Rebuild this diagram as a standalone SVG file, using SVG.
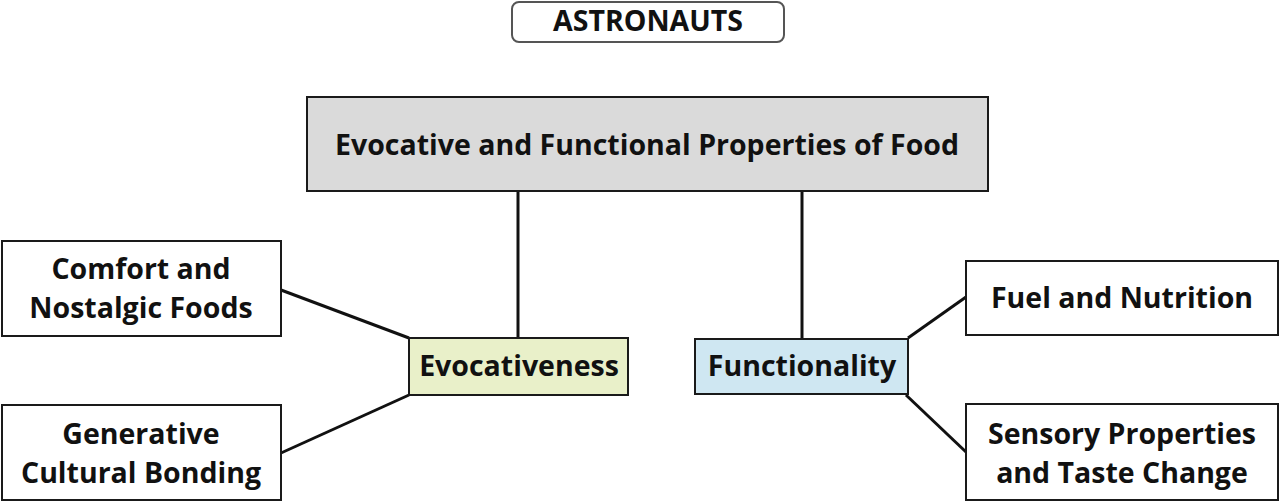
<svg xmlns="http://www.w3.org/2000/svg" width="1280" height="502" viewBox="0 0 1280 502">
<style>
.box{fill:#fff;stroke:#1a1a1a;stroke-width:2}
.t{font-family:"Open Sans","Liberation Sans",sans-serif;font-weight:bold;fill:#111;text-anchor:middle;font-size:28.5px}
.c{stroke:#111;stroke-width:3;fill:none}
</style>
<rect width="1280" height="502" fill="#fff"/>
<g id="astronauts">
<rect x="512" y="2" width="272" height="40" rx="7" fill="#fff" stroke="#555" stroke-width="2"/>
<text class="t" x="648" y="31" font-size="25">ASTRONAUTS</text>
</g>
<g id="connectors">
<line class="c" x1="518" y1="192" x2="518" y2="338"/>
<line class="c" x1="802" y1="192" x2="802" y2="338"/>
<line class="c" x1="281" y1="290" x2="409" y2="338"/>
<line class="c" x1="281" y1="453" x2="409" y2="395"/>
<line class="c" x1="908" y1="338" x2="966" y2="297"/>
<line class="c" x1="906" y1="395" x2="966" y2="452"/>
</g>
<g id="main">
<rect x="307" y="97" width="681" height="94" fill="#dadada" stroke="#1a1a1a" stroke-width="2"/>
<text class="t" x="647" y="155" font-size="28" textLength="624" lengthAdjust="spacingAndGlyphs">Evocative and Functional Properties of Food</text>
</g>
<g id="evocativeness">
<rect x="409" y="338" width="219" height="57" fill="#e9f0c9" stroke="#1a1a1a" stroke-width="2"/>
<text class="t" x="519" y="376">Evocativeness</text>
</g>
<g id="functionality">
<rect x="695" y="339" width="213" height="55" fill="#cfe7f2" stroke="#1a1a1a" stroke-width="2"/>
<text class="t" x="802" y="376">Functionality</text>
</g>
<g id="comfort">
<rect class="box" x="2" y="241" width="279" height="95"/>
<text class="t" x="141" y="279">Comfort and</text>
<text class="t" x="141" y="318">Nostalgic Foods</text>
</g>
<g id="generative">
<rect class="box" x="2" y="405" width="279" height="95"/>
<text class="t" x="141" y="444">Generative</text>
<text class="t" x="141" y="483">Cultural Bonding</text>
</g>
<g id="fuel">
<rect class="box" x="966" y="261" width="312" height="74"/>
<text class="t" x="1122" y="308">Fuel and Nutrition</text>
</g>
<g id="sensory">
<rect class="box" x="966" y="404" width="312" height="96"/>
<text class="t" x="1122" y="444">Sensory Properties</text>
<text class="t" x="1122" y="483">and Taste Change</text>
</g>
</svg>
